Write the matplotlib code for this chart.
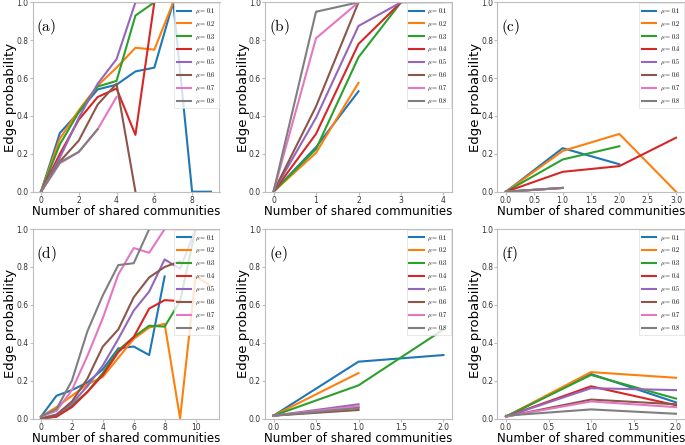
import numpy as np
import matplotlib
matplotlib.use('Agg')
from matplotlib import pyplot as plt

plt.rcParams['mathtext.fontset'] = 'cm'
plt.rcParams['font.family'] = 'DejaVu Sans'

mu_labels = [r'$\mu = 0.1$', r'$\mu = 0.2$', r'$\mu = 0.3$', r'$\mu = 0.4$',
             r'$\mu = 0.5$', r'$\mu = 0.6$', r'$\mu = 0.7$', r'$\mu = 0.8$']
panel_names = ['(a)', '(b)', '(c)', '(d)', '(e)', '(f)']

# edge probability vs number of shared communities, one list per mu
panel_a = [
    [0.0, 0.31, 0.42, 0.54, 0.565, 0.635, 0.655, 1.0, 0.0, 0.0],
    [0.0, 0.28, 0.43, 0.56, 0.655, 0.76, 0.75, 1.0],
    [0.0, 0.25, 0.42, 0.555, 0.585, 0.93, 1.0],
    [0.0, 0.20, 0.38, 0.50, 0.545, 0.30, 1.0],
    [0.0, 0.18, 0.39, 0.57, 0.70, 1.0, 1.0],
    [0.0, 0.16, 0.27, 0.46, 0.57, 0.0],
    [0.0, 0.15, 0.21, 0.33, 0.50],
    [0.0, 0.155, 0.21, 0.33],
]
panel_b = [
    [0.0, 0.235, 0.53],
    [0.0, 0.205, 0.575],
    [0.0, 0.225, 0.71, 1.0],
    [0.0, 0.305, 0.78, 1.0],
    [0.0, 0.39, 0.875, 1.0, 1.0],
    [0.0, 0.45, 1.0],
    [0.0, 0.81, 1.0],
    [0.0, 0.95, 1.0],
]
panel_c = [
    [0.0, 0.23, 0.145],
    [0.0, 0.215, 0.305, 0.0],
    [0.0, 0.17, 0.24],
    [0.0, 0.105, 0.135, 0.285],
    [0.0, 0.02],
    [0.0, 0.02],
    [0.0, 0.02],
    [0.0, 0.02],
]
panel_d = [
    [0.01, 0.12, 0.15, 0.19, 0.26, 0.37, 0.38, 0.335, 0.75],
    [0.01, 0.06, 0.12, 0.18, 0.22, 0.32, 0.42, 0.48, 0.50, 0.0, 0.75, 0.70],
    [0.0, 0.01, 0.07, 0.14, 0.24, 0.36, 0.43, 0.49, 0.485, 0.62, 1.0],
    [0.0, 0.01, 0.06, 0.14, 0.23, 0.35, 0.43, 0.58, 0.625, 0.62],
    [0.0, 0.02, 0.08, 0.17, 0.28, 0.42, 0.57, 0.67, 0.84, 0.79, 1.0, 1.0],
    [0.0, 0.02, 0.09, 0.21, 0.38, 0.47, 0.64, 0.745, 0.80, 0.83],
    [0.01, 0.04, 0.15, 0.33, 0.53, 0.76, 0.90, 0.875, 1.0, 1.0],
    [0.01, 0.05, 0.20, 0.46, 0.65, 0.81, 0.82, 1.0, 1.0],
]
panel_e = [
    [0.015, 0.30, 0.335],
    [0.015, 0.24],
    [0.015, 0.175, 0.47],
    [0.015, 0.06],
    [0.015, 0.075],
    [0.015, 0.045],
    [0.015, 0.065],
    [0.015, 0.055],
]
panel_f = [
    [0.01, 0.235, 0.085],
    [0.01, 0.245, 0.215],
    [0.01, 0.23, 0.105],
    [0.01, 0.17, 0.07],
    [0.01, 0.16, 0.15],
    [0.01, 0.10, 0.075],
    [0.01, 0.09, 0.06],
    [0.015, 0.048, 0.025],
]
panels = [panel_a, panel_b, panel_c, panel_d, panel_e, panel_f]
xticks = [np.arange(0, 9, 2), np.arange(0, 5, 1), np.arange(0, 3.01, 0.5),
          np.arange(0, 11, 2), np.arange(0, 2.01, 0.5), np.arange(0, 2.01, 0.5)]

W, H = 685, 445
lefts = [32.5, 265.0, 497.5]
bottoms = [191.7, 418.5]
ax_w, ax_h = 187.0, 189.4

spine_col = '#bdbdbd'
fig = plt.figure(figsize=(W / 100, H / 100), dpi=100)

for k, data in enumerate(panels):
    row, col = divmod(k, 3)
    ax = fig.add_axes([lefts[col] / W, (H - bottoms[row]) / H, ax_w / W, ax_h / H])
    for i, vals in enumerate(data):
        ax.plot(np.arange(len(vals)), vals, color=f'C{i}', lw=1.5, label=mu_labels[i])
    ax.set_ylim(0, 1)
    ax.set_yticks(np.arange(0, 1.01, 0.2))
    ax.set_xticks(xticks[k])
    ax.margins(x=0.05)
    for sp in ax.spines.values():
        sp.set_color(spine_col)
        sp.set_linewidth(0.8)
    ax.tick_params(direction='out', length=2, width=0.8, color=spine_col,
                   labelcolor='#333333', labelsize=5.5, pad=1)
    ax.set_xlabel('Number of shared communities', fontsize=8.6, labelpad=0)
    ax.set_ylabel('Edge probability', fontsize=9.5)
    ax.yaxis.set_label_coords(-15.5 / ax_w, 0.5)
    ax.text(0.02, 0.87, r'$\mathrm{' + panel_names[k] + '}$', transform=ax.transAxes,
            fontsize=11, va='center', ha='left')
    leg = ax.legend(loc='upper right', fontsize=4.6, labelspacing=0.45,
                    borderaxespad=0.15, handlelength=2.2, handletextpad=0.6,
                    framealpha=0.8, fancybox=False, borderpad=0.4)
    leg.get_frame().set_edgecolor('#dddddd')
    leg.get_frame().set_linewidth(0.6)

fig.savefig('out.png', dpi=100)
